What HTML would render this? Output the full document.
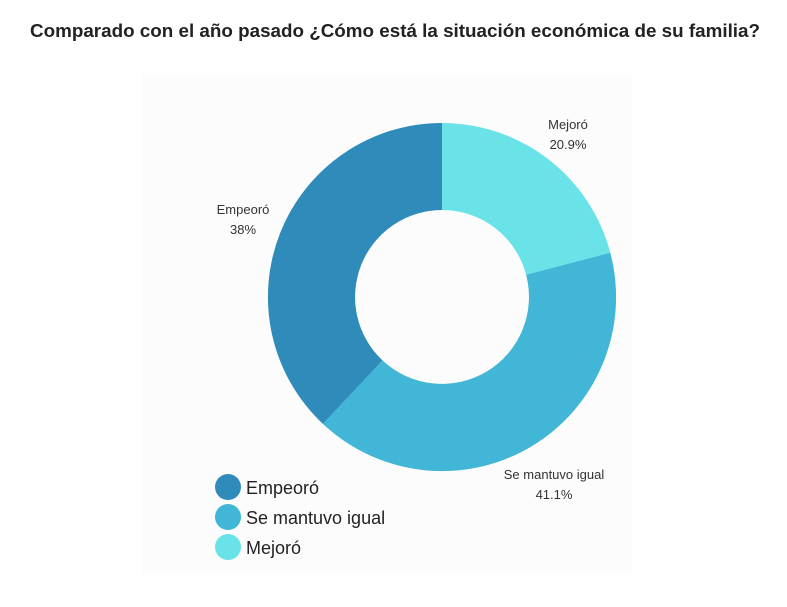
<!DOCTYPE html>
<html><head><meta charset="utf-8"><style>
body{margin:0;width:787px;height:602px;background:#fff;overflow:hidden;font-family:"Liberation Sans",sans-serif}
</style></head><body>
<svg width="787" height="602" xmlns="http://www.w3.org/2000/svg">
<text x="30" y="37" textLength="730" lengthAdjust="spacingAndGlyphs" font-family="Liberation Sans, sans-serif" font-weight="bold" font-size="18" fill="#222">Comparado con el año pasado  ¿Cómo está la situación económica de su familia?</text>
<rect x="142" y="73" width="490" height="500" fill="#fcfcfc"/>
<path d="M442,123 A174,174 0 0 1 610.3,252.7 L526.1,274.7 A87,87 0 0 0 442,210 Z" fill="#6ae3e8"/>
<path d="M610.3,252.7 A174,174 0 0 1 322.9,423.9 L382.5,360.4 A87,87 0 0 0 526.1,274.7 Z" fill="#41b6d6"/>
<path d="M322.9,423.9 A174,174 0 0 1 442,123 L442,210 A87,87 0 0 0 382.5,360.4 Z" fill="#2e8bba"/>
<g font-family="Liberation Sans, sans-serif" font-size="13" fill="#333" text-anchor="middle">
<text x="568" y="129">Mejoró</text><text x="568" y="149">20.9%</text>
<text x="243" y="214">Empeoró</text><text x="243" y="234">38%</text>
<text x="554" y="479">Se mantuvo igual</text><text x="554" y="499">41.1%</text>
</g>
<circle cx="228" cy="487" r="13" fill="#2e8bba"/>
<circle cx="228" cy="517" r="13" fill="#41b6d6"/>
<circle cx="228" cy="547" r="13" fill="#6ae3e8"/>
<g font-family="Liberation Sans, sans-serif" font-size="18" fill="#222">
<text x="246" y="494">Empeoró</text>
<text x="246" y="524">Se mantuvo igual</text>
<text x="246" y="554">Mejoró</text>
</g>
</svg>
</body></html>
